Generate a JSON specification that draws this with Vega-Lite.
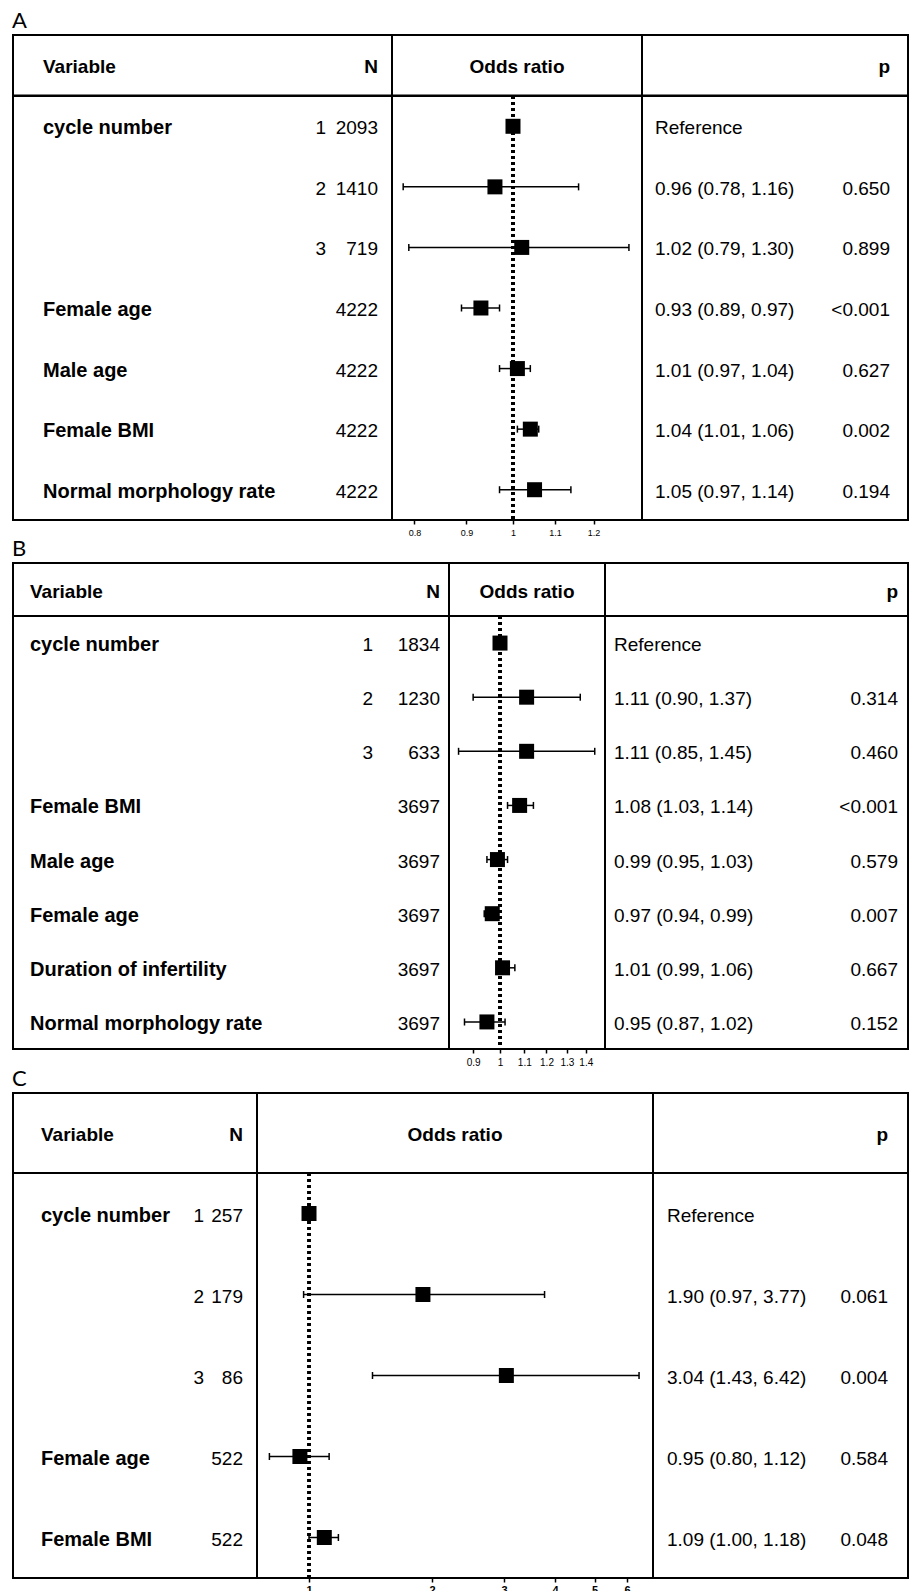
{
  "$schema": "https://vega.github.io/schema/vega-lite/v6.json",
  "padding": {"left": 12, "top": 10, "right": 0, "bottom": 0},
  "background": "white",
  "datasets": {
    "A": [
      {"i": 1, "label": "cycle number", "level": "1", "n": "2093", "or": 1, "lo": null, "hi": null, "ci": "Reference", "p": ""},
      {"i": 2, "label": "", "level": "2", "n": "1410", "or": 0.96, "lo": 0.78, "hi": 1.16, "ci": "0.96 (0.78, 1.16)", "p": "0.650"},
      {"i": 3, "label": "", "level": "3", "n": "719", "or": 1.02, "lo": 0.79, "hi": 1.30, "ci": "1.02 (0.79, 1.30)", "p": "0.899"},
      {"i": 4, "label": "Female age", "level": "", "n": "4222", "or": 0.93, "lo": 0.89, "hi": 0.97, "ci": "0.93 (0.89, 0.97)", "p": "<0.001"},
      {"i": 5, "label": "Male age", "level": "", "n": "4222", "or": 1.01, "lo": 0.97, "hi": 1.04, "ci": "1.01 (0.97, 1.04)", "p": "0.627"},
      {"i": 6, "label": "Female BMI", "level": "", "n": "4222", "or": 1.04, "lo": 1.01, "hi": 1.06, "ci": "1.04 (1.01, 1.06)", "p": "0.002"},
      {"i": 7, "label": "Normal morphology rate", "level": "", "n": "4222", "or": 1.05, "lo": 0.97, "hi": 1.14, "ci": "1.05 (0.97, 1.14)", "p": "0.194"}
    ],
    "B": [
      {"i": 1, "label": "cycle number", "level": "1", "n": "1834", "or": 1, "lo": null, "hi": null, "ci": "Reference", "p": ""},
      {"i": 2, "label": "", "level": "2", "n": "1230", "or": 1.11, "lo": 0.90, "hi": 1.37, "ci": "1.11 (0.90, 1.37)", "p": "0.314"},
      {"i": 3, "label": "", "level": "3", "n": "633", "or": 1.11, "lo": 0.85, "hi": 1.45, "ci": "1.11 (0.85, 1.45)", "p": "0.460"},
      {"i": 4, "label": "Female BMI", "level": "", "n": "3697", "or": 1.08, "lo": 1.03, "hi": 1.14, "ci": "1.08 (1.03, 1.14)", "p": "<0.001"},
      {"i": 5, "label": "Male age", "level": "", "n": "3697", "or": 0.99, "lo": 0.95, "hi": 1.03, "ci": "0.99 (0.95, 1.03)", "p": "0.579"},
      {"i": 6, "label": "Female age", "level": "", "n": "3697", "or": 0.97, "lo": 0.94, "hi": 0.99, "ci": "0.97 (0.94, 0.99)", "p": "0.007"},
      {"i": 7, "label": "Duration of infertility", "level": "", "n": "3697", "or": 1.01, "lo": 0.99, "hi": 1.06, "ci": "1.01 (0.99, 1.06)", "p": "0.667"},
      {"i": 8, "label": "Normal morphology rate", "level": "", "n": "3697", "or": 0.95, "lo": 0.87, "hi": 1.02, "ci": "0.95 (0.87, 1.02)", "p": "0.152"}
    ],
    "C": [
      {"i": 1, "label": "cycle number", "level": "1", "n": "257", "or": 1, "lo": null, "hi": null, "ci": "Reference", "p": ""},
      {"i": 2, "label": "", "level": "2", "n": "179", "or": 1.90, "lo": 0.97, "hi": 3.77, "ci": "1.90 (0.97, 3.77)", "p": "0.061"},
      {"i": 3, "label": "", "level": "3", "n": "86", "or": 3.04, "lo": 1.43, "hi": 6.42, "ci": "3.04 (1.43, 6.42)", "p": "0.004"},
      {"i": 4, "label": "Female age", "level": "", "n": "522", "or": 0.95, "lo": 0.80, "hi": 1.12, "ci": "0.95 (0.80, 1.12)", "p": "0.584"},
      {"i": 5, "label": "Female BMI", "level": "", "n": "522", "or": 1.09, "lo": 1.00, "hi": 1.18, "ci": "1.09 (1.00, 1.18)", "p": "0.048"}
    ]
  },
  "spacing": 0,
  "vconcat": [
    {
      "title": {"text": "A", "offset": 1},
      "bounds": "flush",
      "spacing": 0,
      "columns": 3,
      "concat": [
          {"width": 379, "height": 60.5, "data": {"values": [{}]}, "encoding": {"y": {"datum": "h", "type": "nominal", "scale": {"type": "point", "domain": ["h"], "padding": 0.5}, "axis": null}}, "layer": [
            {"mark": {"type": "text", "align": "left", "fontWeight": "bold"}, "encoding": {"x": {"datum": "label", "type": "nominal", "scale": {"type": "point", "domain": ["label", "n"], "range": [30, 365], "padding": 0}, "axis": null}, "text": {"value": "Variable"}}},
            {"mark": {"type": "text", "align": "right", "fontWeight": "bold"}, "encoding": {"x": {"datum": "n", "type": "nominal", "scale": {"type": "point", "domain": ["label", "n"], "range": [30, 365], "padding": 0}, "axis": null}, "text": {"value": "N"}}}
          ]},
          {"width": 250, "height": 60.5, "data": {"values": [{}]}, "mark": {"type": "text", "fontWeight": "bold"}, "encoding": {"y": {"datum": "h", "type": "nominal", "scale": {"type": "point", "domain": ["h"], "padding": 0.5}, "axis": null}, "text": {"value": "Odds ratio"}}},
          {"width": 266, "height": 60.5, "data": {"values": [{}]}, "mark": {"type": "text", "align": "right", "fontWeight": "bold"}, "encoding": {"y": {"datum": "h", "type": "nominal", "scale": {"type": "point", "domain": ["h"], "padding": 0.5}, "axis": null}, "x": {"datum": "p", "type": "nominal", "scale": {"type": "point", "domain": ["ci", "p"], "range": [13, 248], "padding": 0}, "axis": null}, "text": {"value": "p"}}},
          {"width": 379, "height": 424, "data": {"name": "A"}, "layer": [
            {"mark": {"type": "text", "align": "left", "fontWeight": "bold", "fontSize": 20}, "encoding": {"y": {"field": "i", "type": "ordinal", "axis": null, "scale": {"type": "point", "padding": 0.5}}, "x": {"datum": "label", "type": "nominal", "scale": {"type": "point", "domain": ["label"], "range": [30, 30], "padding": 0}, "axis": null}, "text": {"field": "label"}}},
            {"transform": [{"fold": ["level", "n"], "as": ["col", "val"]}], "mark": {"type": "text", "align": "right"}, "encoding": {"y": {"field": "i", "type": "ordinal", "axis": null, "scale": {"type": "point", "padding": 0.5}}, "x": {"field": "col", "type": "nominal", "scale": {"type": "point", "domain": ["level", "n"], "range": [313, 365], "padding": 0}, "axis": null}, "text": {"field": "val"}}}
          ], "resolve": {"scale": {"x": "independent"}}},
          {"width": 250, "height": 424, "data": {"name": "A"}, "layer": [
            {"mark": {"type": "rule", "strokeDash": [3, 3], "strokeWidth": 3, "color": "#000"}, "encoding": {"x": {"datum": 1, "type": "quantitative", "scale": {"type": "log", "domain": [0.7605, 1.339], "nice": false}, "axis": {"title": null, "values": [0.8, 0.9, 1, 1.1, 1.2], "format": "~g", "labelFontSize": 9, "tickSize": 4, "labelPadding": 4}}}},
            {"transform": [{"filter": "datum.lo != null"}], "mark": {"type": "rule", "strokeWidth": 1.5, "color": "#000"}, "encoding": {"y": {"field": "i", "type": "ordinal", "axis": null, "scale": {"type": "point", "padding": 0.5}}, "x": {"field": "lo", "type": "quantitative", "title": null}, "x2": {"field": "hi"}}},
            {"transform": [{"filter": "datum.lo != null"}, {"fold": ["lo", "hi"], "as": ["end", "v"]}], "mark": {"type": "tick", "size": 7, "thickness": 1.5, "color": "#000", "opacity": 1}, "encoding": {"y": {"field": "i", "type": "ordinal", "axis": null, "scale": {"type": "point", "padding": 0.5}}, "x": {"field": "v", "type": "quantitative", "title": null}}},
            {"mark": {"type": "square", "size": 225, "filled": true, "color": "#000", "opacity": 1}, "encoding": {"y": {"field": "i", "type": "ordinal", "axis": null, "scale": {"type": "point", "padding": 0.5}}, "x": {"field": "or", "type": "quantitative", "title": null}}}
          ]},
          {"width": 266, "height": 424, "data": {"name": "A"}, "layer": [
            {"mark": {"type": "text", "align": "left"}, "encoding": {"y": {"field": "i", "type": "ordinal", "axis": null, "scale": {"type": "point", "padding": 0.5}}, "x": {"datum": "ci", "type": "nominal", "scale": {"type": "point", "domain": ["ci", "p"], "range": [13, 248], "padding": 0}, "axis": null}, "text": {"field": "ci"}}},
            {"mark": {"type": "text", "align": "right"}, "encoding": {"y": {"field": "i", "type": "ordinal", "axis": null, "scale": {"type": "point", "padding": 0.5}}, "x": {"datum": "p", "type": "nominal", "scale": {"type": "point", "domain": ["ci", "p"], "range": [13, 248], "padding": 0}, "axis": null}, "text": {"field": "p"}}}
          ]}
      ]
    },
    {
      "title": {"text": "B", "offset": 1},
      "bounds": "flush",
      "spacing": 0,
      "columns": 3,
      "concat": [
          {"width": 436, "height": 53, "data": {"values": [{}]}, "encoding": {"y": {"datum": "h", "type": "nominal", "scale": {"type": "point", "domain": ["h"], "padding": 0.5}, "axis": null}}, "layer": [
            {"mark": {"type": "text", "align": "left", "fontWeight": "bold"}, "encoding": {"x": {"datum": "label", "type": "nominal", "scale": {"type": "point", "domain": ["label", "n"], "range": [17, 427], "padding": 0}, "axis": null}, "text": {"value": "Variable"}}},
            {"mark": {"type": "text", "align": "right", "fontWeight": "bold"}, "encoding": {"x": {"datum": "n", "type": "nominal", "scale": {"type": "point", "domain": ["label", "n"], "range": [17, 427], "padding": 0}, "axis": null}, "text": {"value": "N"}}}
          ]},
          {"width": 156, "height": 53, "data": {"values": [{}]}, "mark": {"type": "text", "fontWeight": "bold"}, "encoding": {"y": {"datum": "h", "type": "nominal", "scale": {"type": "point", "domain": ["h"], "padding": 0.5}, "axis": null}, "text": {"value": "Odds ratio"}}},
          {"width": 303, "height": 53, "data": {"values": [{}]}, "mark": {"type": "text", "align": "right", "fontWeight": "bold"}, "encoding": {"y": {"datum": "h", "type": "nominal", "scale": {"type": "point", "domain": ["h"], "padding": 0.5}, "axis": null}, "x": {"datum": "p", "type": "nominal", "scale": {"type": "point", "domain": ["ci", "p"], "range": [9, 293], "padding": 0}, "axis": null}, "text": {"value": "p"}}},
          {"width": 436, "height": 433, "data": {"name": "B"}, "layer": [
            {"transform": [{"filter": "datum.label != 'Female BMI' && datum.label != 'Female age'"}], "mark": {"type": "text", "align": "left", "fontWeight": "bold", "fontSize": 20}, "encoding": {"y": {"field": "i", "type": "ordinal", "axis": null, "scale": {"type": "point", "padding": 0.5}}, "x": {"datum": "label", "type": "nominal", "scale": {"type": "point", "domain": ["label"], "range": [17, 17], "padding": 0}, "axis": null}, "text": {"field": "label"}}},
            {"transform": [{"filter": "datum.label == 'Female BMI' || datum.label == 'Female age'"}], "mark": {"type": "text", "align": "left", "fontWeight": "bold", "fontSize": 20, "font": "Liberation Sans Narrow, Liberation Sans"}, "encoding": {"y": {"field": "i", "type": "ordinal", "axis": null, "scale": {"type": "point", "padding": 0.5}}, "x": {"datum": "label", "type": "nominal", "scale": {"type": "point", "domain": ["label"], "range": [17, 17], "padding": 0}, "axis": null}, "text": {"field": "label"}}},
            {"transform": [{"fold": ["level", "n"], "as": ["col", "val"]}], "mark": {"type": "text", "align": "right"}, "encoding": {"y": {"field": "i", "type": "ordinal", "axis": null, "scale": {"type": "point", "padding": 0.5}}, "x": {"field": "col", "type": "nominal", "scale": {"type": "point", "domain": ["level", "n"], "range": [360, 427], "padding": 0}, "axis": null}, "text": {"field": "val"}}}
          ], "resolve": {"scale": {"x": "independent"}}},
          {"width": 156, "height": 433, "data": {"name": "B"}, "layer": [
            {"mark": {"type": "rule", "strokeDash": [3, 3], "strokeWidth": 3, "color": "#000"}, "encoding": {"x": {"datum": 1, "type": "quantitative", "scale": {"type": "log", "domain": [0.8187, 1.5095], "nice": false}, "axis": {"title": null, "values": [0.9, 1, 1.1, 1.2, 1.3, 1.4], "format": "~g", "labelFontSize": 10, "tickSize": 4, "labelPadding": 4}}}},
            {"transform": [{"filter": "datum.lo != null"}], "mark": {"type": "rule", "strokeWidth": 1.5, "color": "#000"}, "encoding": {"y": {"field": "i", "type": "ordinal", "axis": null, "scale": {"type": "point", "padding": 0.5}}, "x": {"field": "lo", "type": "quantitative", "title": null}, "x2": {"field": "hi"}}},
            {"transform": [{"filter": "datum.lo != null"}, {"fold": ["lo", "hi"], "as": ["end", "v"]}], "mark": {"type": "tick", "size": 7, "thickness": 1.5, "color": "#000", "opacity": 1}, "encoding": {"y": {"field": "i", "type": "ordinal", "axis": null, "scale": {"type": "point", "padding": 0.5}}, "x": {"field": "v", "type": "quantitative", "title": null}}},
            {"mark": {"type": "square", "size": 225, "filled": true, "color": "#000", "opacity": 1}, "encoding": {"y": {"field": "i", "type": "ordinal", "axis": null, "scale": {"type": "point", "padding": 0.5}}, "x": {"field": "or", "type": "quantitative", "title": null}}}
          ]},
          {"width": 303, "height": 433, "data": {"name": "B"}, "layer": [
            {"mark": {"type": "text", "align": "left"}, "encoding": {"y": {"field": "i", "type": "ordinal", "axis": null, "scale": {"type": "point", "padding": 0.5}}, "x": {"datum": "ci", "type": "nominal", "scale": {"type": "point", "domain": ["ci", "p"], "range": [9, 293], "padding": 0}, "axis": null}, "text": {"field": "ci"}}},
            {"mark": {"type": "text", "align": "right"}, "encoding": {"y": {"field": "i", "type": "ordinal", "axis": null, "scale": {"type": "point", "padding": 0.5}}, "x": {"datum": "p", "type": "nominal", "scale": {"type": "point", "domain": ["ci", "p"], "range": [9, 293], "padding": 0}, "axis": null}, "text": {"field": "p"}}}
          ]}
      ]
    },
    {
      "title": {"text": "C", "offset": 1},
      "bounds": "flush",
      "spacing": 0,
      "columns": 3,
      "concat": [
          {"width": 244, "height": 80, "data": {"values": [{}]}, "encoding": {"y": {"datum": "h", "type": "nominal", "scale": {"type": "point", "domain": ["h"], "padding": 0.5}, "axis": null}}, "layer": [
            {"mark": {"type": "text", "align": "left", "fontWeight": "bold"}, "encoding": {"x": {"datum": "label", "type": "nominal", "scale": {"type": "point", "domain": ["label", "n"], "range": [28, 230], "padding": 0}, "axis": null}, "text": {"value": "Variable"}}},
            {"mark": {"type": "text", "align": "right", "fontWeight": "bold"}, "encoding": {"x": {"datum": "n", "type": "nominal", "scale": {"type": "point", "domain": ["label", "n"], "range": [28, 230], "padding": 0}, "axis": null}, "text": {"value": "N"}}}
          ]},
          {"width": 396, "height": 80, "data": {"values": [{}]}, "mark": {"type": "text", "fontWeight": "bold"}, "encoding": {"y": {"datum": "h", "type": "nominal", "scale": {"type": "point", "domain": ["h"], "padding": 0.5}, "axis": null}, "text": {"value": "Odds ratio"}}},
          {"width": 255, "height": 80, "data": {"values": [{}]}, "mark": {"type": "text", "align": "right", "fontWeight": "bold"}, "encoding": {"y": {"datum": "h", "type": "nominal", "scale": {"type": "point", "domain": ["h"], "padding": 0.5}, "axis": null}, "x": {"datum": "p", "type": "nominal", "scale": {"type": "point", "domain": ["ci", "p"], "range": [14, 235], "padding": 0}, "axis": null}, "text": {"value": "p"}}},
          {"width": 244, "height": 405, "data": {"name": "C"}, "layer": [
            {"mark": {"type": "text", "align": "left", "fontWeight": "bold", "fontSize": 20}, "encoding": {"y": {"field": "i", "type": "ordinal", "axis": null, "scale": {"type": "point", "padding": 0.5}}, "x": {"datum": "label", "type": "nominal", "scale": {"type": "point", "domain": ["label"], "range": [28, 28], "padding": 0}, "axis": null}, "text": {"field": "label"}}},
            {"transform": [{"fold": ["level", "n"], "as": ["col", "val"]}], "mark": {"type": "text", "align": "right"}, "encoding": {"y": {"field": "i", "type": "ordinal", "axis": null, "scale": {"type": "point", "padding": 0.5}}, "x": {"field": "col", "type": "nominal", "scale": {"type": "point", "domain": ["level", "n"], "range": [191, 230], "padding": 0}, "axis": null}, "text": {"field": "val"}}}
          ], "resolve": {"scale": {"x": "independent"}}},
          {"width": 396, "height": 405, "data": {"name": "C"}, "layer": [
            {"mark": {"type": "rule", "strokeDash": [3, 3], "strokeWidth": 3, "color": "#000"}, "encoding": {"x": {"datum": 1, "type": "quantitative", "scale": {"type": "log", "domain": [0.746, 6.945], "nice": false}, "axis": {"title": null, "values": [1, 2, 3, 4, 5, 6], "format": "~g", "labelFontSize": 11, "labelFontWeight": "bold", "tickSize": 4, "labelPadding": 2}}}},
            {"transform": [{"filter": "datum.lo != null"}], "mark": {"type": "rule", "strokeWidth": 1.5, "color": "#000"}, "encoding": {"y": {"field": "i", "type": "ordinal", "axis": null, "scale": {"type": "point", "padding": 0.5}}, "x": {"field": "lo", "type": "quantitative", "title": null}, "x2": {"field": "hi"}}},
            {"transform": [{"filter": "datum.lo != null"}, {"fold": ["lo", "hi"], "as": ["end", "v"]}], "mark": {"type": "tick", "size": 7, "thickness": 1.5, "color": "#000", "opacity": 1}, "encoding": {"y": {"field": "i", "type": "ordinal", "axis": null, "scale": {"type": "point", "padding": 0.5}}, "x": {"field": "v", "type": "quantitative", "title": null}}},
            {"mark": {"type": "square", "size": 225, "filled": true, "color": "#000", "opacity": 1}, "encoding": {"y": {"field": "i", "type": "ordinal", "axis": null, "scale": {"type": "point", "padding": 0.5}}, "x": {"field": "or", "type": "quantitative", "title": null}}}
          ]},
          {"width": 255, "height": 405, "data": {"name": "C"}, "layer": [
            {"mark": {"type": "text", "align": "left"}, "encoding": {"y": {"field": "i", "type": "ordinal", "axis": null, "scale": {"type": "point", "padding": 0.5}}, "x": {"datum": "ci", "type": "nominal", "scale": {"type": "point", "domain": ["ci", "p"], "range": [14, 235], "padding": 0}, "axis": null}, "text": {"field": "ci"}}},
            {"mark": {"type": "text", "align": "right"}, "encoding": {"y": {"field": "i", "type": "ordinal", "axis": null, "scale": {"type": "point", "padding": 0.5}}, "x": {"datum": "p", "type": "nominal", "scale": {"type": "point", "domain": ["ci", "p"], "range": [14, 235], "padding": 0}, "axis": null}, "text": {"field": "p"}}}
          ]}
      ]
    }
  ],
  "config": {
    "view": {"stroke": "#000", "strokeWidth": 2},
    "concat": {"spacing": 0},
    "text": {"font": "Liberation Sans", "fontSize": 19, "baseline": "middle", "fill": "#000", "dy": 2},
    "axis": {"domain": false, "grid": false, "ticks": true, "tickColor": "#000", "tickWidth": 1.5, "labelFont": "Liberation Sans", "labelColor": "#000", "labelOverlap": false},
    "title": {"font": "Lato", "fontSize": 22, "fontWeight": "normal", "anchor": "start", "color": "#000"}
  }
}
